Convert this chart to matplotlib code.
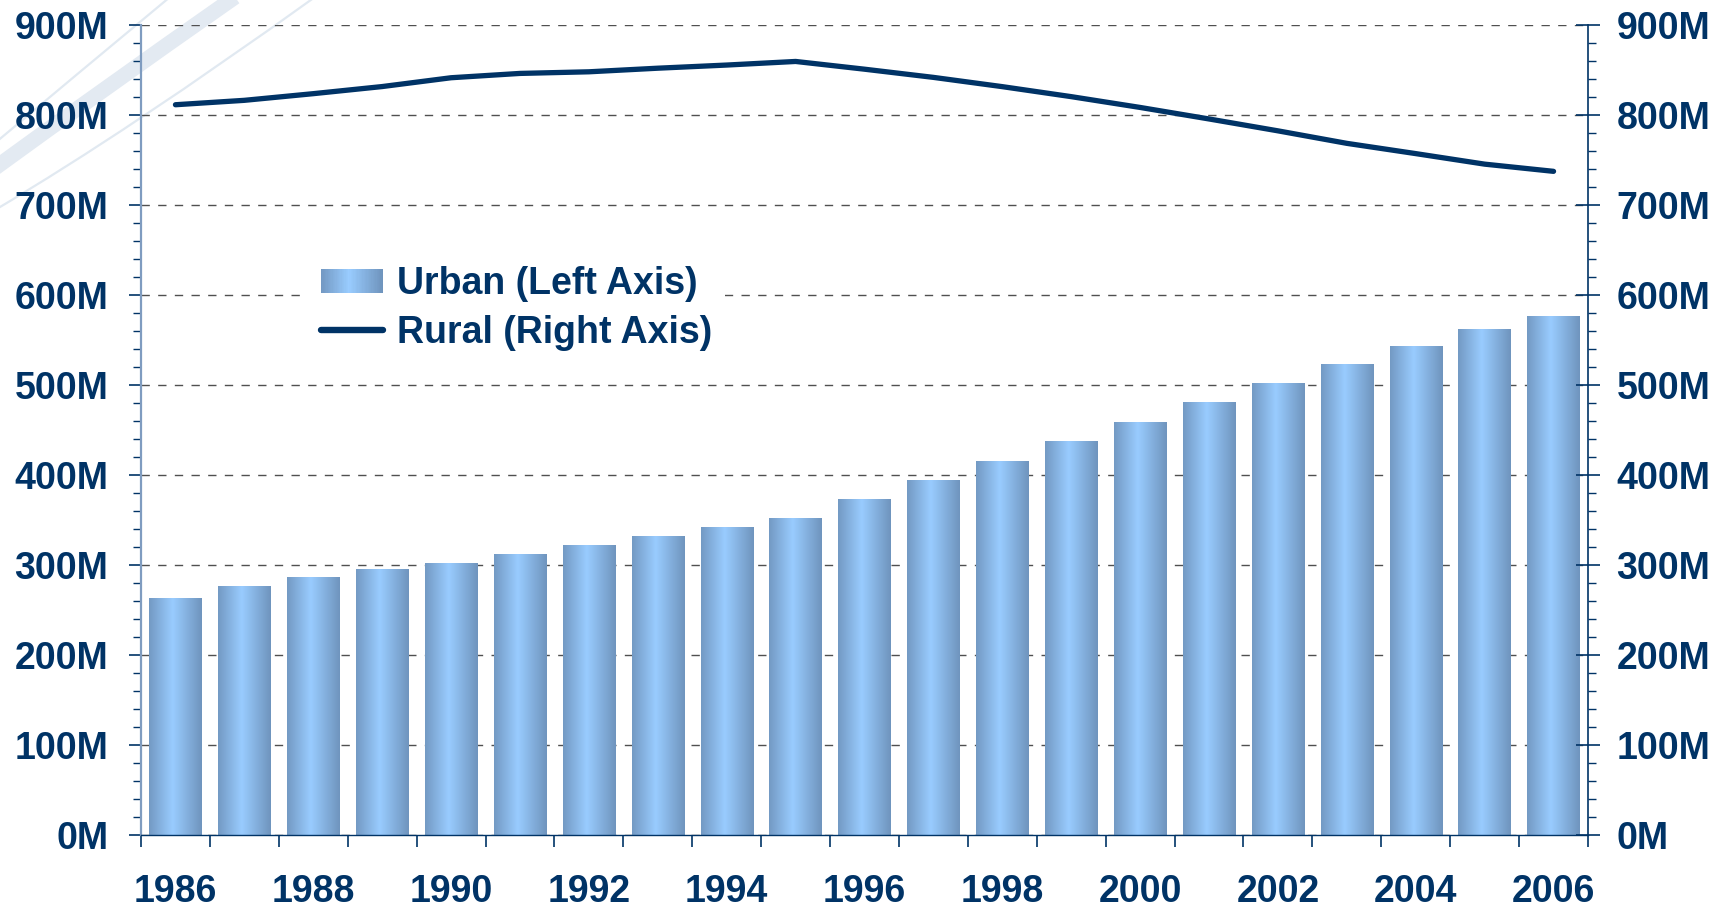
import matplotlib
matplotlib.use("Agg")
import matplotlib.pyplot as plt
import numpy as np
from matplotlib.colors import LinearSegmentedColormap
from matplotlib.legend_handler import HandlerBase
from matplotlib.patches import Rectangle, PathPatch
from matplotlib.path import Path
from matplotlib.lines import Line2D
from matplotlib.ticker import FixedLocator, MultipleLocator, FuncFormatter

# ---------------- data (millions) ----------------
years = list(range(1986, 2007))
urban = [263.7, 276.7, 286.6, 295.4, 302.0, 312.0, 321.8, 331.7, 341.7, 351.7,
         373.0, 394.5, 416.1, 437.5, 459.1, 480.6, 502.1, 523.8, 542.8, 562.1, 577.1]
rural = [811.4, 816.3, 823.7, 831.6, 841.4, 846.2, 848.0, 852.0, 855.5, 859.5,
         850.9, 841.8, 831.5, 820.4, 808.4, 795.6, 782.4, 768.5, 757.1, 745.4, 737.4]
ytick_vals = [0, 100, 200, 300, 400, 500, 600, 700, 800, 900]
label_years = [y for y in years if y % 2 == 0]
series_names = ["Urban (Left Axis)", "Rural (Right Axis)"]

NAVY = "#003366"
plt.rcParams['font.family'] = ['Liberation Sans', 'DejaVu Sans']
plt.rcParams['font.weight'] = 'bold'

W, H = 1732, 907
fig = plt.figure(figsize=(W / 100, H / 100), dpi=100)
fig.patch.set_facecolor("white")

# ---------------- background swooshes (figure coords) ----------------
def fig_curve(p0, p1, ctrl, color, lw, z=0):
    pts = [(x / W, 1 - y / H) for (x, y) in (p0, ctrl, p1)]
    path = Path(pts, [Path.MOVETO, Path.CURVE3, Path.CURVE3])
    patch = PathPatch(path, facecolor="none", edgecolor=color, lw=lw,
                      transform=fig.transFigure, zorder=z, capstyle="butt")
    fig.add_artist(patch)

fig_curve((-5, 143), (170, -3), (70, 80), "#e1e9f1", 1.6)
fig_curve((-5, 168), (235, -3), (95, 95), "#e3eaf2", 11)
fig_curve((-5, 210), (315, -3), (130, 130), "#e1e9f1", 1.6)

# ---------------- axes ----------------
left, right, top, bottom = 141, 1588, 25, 835
ax = fig.add_axes([left / W, 1 - bottom / H, (right - left) / W, (bottom - top) / H])
ax.set_facecolor("none")
x = np.arange(len(years))

cmap = LinearSegmentedColormap.from_list(
    "bar", [(0.0, "#7399c3"), (0.45, "#99ccff"), (1.0, "#6f94bd")])
grad = np.linspace(0, 1, 256).reshape(1, -1)

bars = ax.bar(x, urban, width=0.76, color="none", edgecolor="none", zorder=2)
for rect in bars:
    x0, w, h = rect.get_x(), rect.get_width(), rect.get_height()
    im = ax.imshow(grad, cmap=cmap, aspect="auto", extent=(x0, x0 + w, 0, h),
                   zorder=2, interpolation="bicubic")
    im.set_clip_path(rect)
ax.set_xlim(-0.5, len(years) - 0.5)
ax.set_ylim(0, 900)

# grid
ax.set_axisbelow(True)
ax.yaxis.set_major_locator(FixedLocator(ytick_vals))
ax.yaxis.set_minor_locator(MultipleLocator(20))
ax.yaxis.grid(True, which="major", color="#505050", lw=1.0, ls=(0, (6, 6)))
ax.yaxis.set_major_formatter(FuncFormatter(lambda v, p: f"{int(v)}M"))

# x ticks: boundaries as minor ticks, labels at even years
ax.xaxis.set_minor_locator(FixedLocator(np.arange(-0.5, len(years), 1.0)))
ax.xaxis.set_major_locator(FixedLocator([years.index(y) for y in label_years]))
ax.set_xticklabels([str(y) for y in label_years])
ax.tick_params(axis="x", which="major", length=0, pad=28, labelsize=27,
               labelcolor=NAVY)
ax.tick_params(axis="x", which="minor", length=8.6, width=1.2, color=NAVY,
               direction="out")
ax.tick_params(axis="y", which="major", length=8.6, width=1.2, color=NAVY,
               direction="out", pad=15, labelsize=27, labelcolor=NAVY)
ax.tick_params(axis="y", which="minor", length=5.8, width=1.0, color=NAVY,
               direction="out")

for s in ("top", "right"):
    ax.spines[s].set_visible(False)
ax.spines["left"].set_color("#7f9cc0")
ax.spines["left"].set_linewidth(1.6)
ax.spines["bottom"].set_color(NAVY)
ax.spines["bottom"].set_linewidth(1.0)

# right axis
ax2 = ax.twinx()
ax2.set_ylim(0, 900)
ax2.set_facecolor("none")
line, = ax2.plot(x, rural, color=NAVY, lw=3.8, solid_capstyle="round",
                 solid_joinstyle="round", zorder=5)
ax2.yaxis.set_major_locator(FixedLocator(ytick_vals))
ax2.yaxis.set_minor_locator(MultipleLocator(20))
ax2.yaxis.set_major_formatter(FuncFormatter(lambda v, p: f"{int(v)}M"))
ax2.tick_params(axis="y", which="major", length=17, width=1.2, color=NAVY,
                direction="inout", pad=12, labelsize=27, labelcolor=NAVY)
ax2.tick_params(axis="y", which="minor", length=5.8, width=1.0, color=NAVY,
                direction="out")
for s in ("top", "left", "bottom"):
    ax2.spines[s].set_visible(False)
ax2.spines["right"].set_color(NAVY)
ax2.spines["right"].set_linewidth(1.2)

# ---------------- legend ----------------
class GradientHandler(HandlerBase):
    def create_artists(self, legend, orig_handle, xdescent, ydescent, width,
                       height, fontsize, trans):
        n = 48
        arts = []
        for k in range(n):
            r = Rectangle((-xdescent + width * k / n, -ydescent),
                          width / n * 1.08, height,
                          facecolor=cmap(k / (n - 1)), edgecolor="none",
                          transform=trans)
            arts.append(r)
        return arts

bar_proxy = Rectangle((0, 0), 1, 1)
line_proxy = Line2D([0], [0], color=NAVY, lw=4.6, solid_capstyle="round")
leg = fig.legend([bar_proxy, line_proxy], series_names,
                 handler_map={Rectangle: GradientHandler()},
                 loc="upper left", bbox_to_anchor=(308 / W, 1 - 253 / H),
                 frameon=True, facecolor="white", edgecolor="none",
                 framealpha=1.0, fancybox=False,
                 prop={"size": 27, "weight": "bold"},
                 handlelength=1.65, handleheight=0.6, handletextpad=0.37,
                 labelspacing=0.34, borderpad=0.35, borderaxespad=0)
for t in leg.get_texts():
    t.set_color(NAVY)
leg.set_zorder(10)

fig.savefig("out.png", dpi=100, facecolor="white")
